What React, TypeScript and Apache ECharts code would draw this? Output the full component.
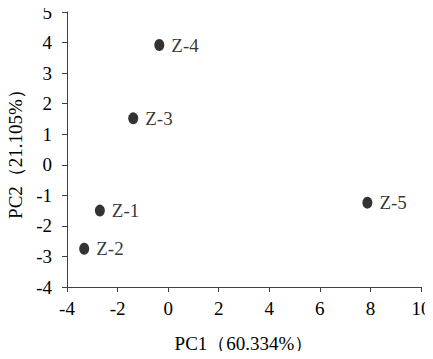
import React, { useEffect, useRef } from "react";
import * as echarts from "echarts";

const names = ["Z-1", "Z-2", "Z-3", "Z-4", "Z-5"];
const pc1 = [-2.7, -3.32, -1.38, -0.35, 7.88];
const pc2 = [-1.5, -2.75, 1.52, 3.92, -1.24];
const xName = "PC1（60.334%）";
const yName = "PC2（21.105%）";

const FONT = "'Liberation Serif', 'Times New Roman', serif";

export default function App() {
  const ref = useRef<HTMLDivElement>(null);
  useEffect(() => {
    if (!ref.current) return;
    const chart = echarts.init(ref.current, undefined, { renderer: "svg" });
    const axisCommon = {
      axisLine: { show: true, onZero: false, lineStyle: { color: "#404040", width: 1 } },
      axisTick: { show: true, inside: false, length: 5, lineStyle: { color: "#404040" } },
      splitLine: { show: false },
      axisLabel: { fontFamily: FONT, fontSize: 19, color: "#000" },
      nameLocation: "middle" as const,
      nameTextStyle: { fontFamily: FONT, fontSize: 19, color: "#000" },
    };
    chart.setOption({
      animation: false,
      grid: {
        left: 67,
        right: 12,
        top: 12,
        bottom: 72,
        containLabel: false,
        outerBoundsMode: "none",
      },
      xAxis: {
        ...axisCommon,
        type: "value",
        min: -4,
        max: 10,
        interval: 2,
        name: xName,
        nameGap: 47,
        axisLabel: { ...axisCommon.axisLabel, margin: 12 },
      },
      yAxis: {
        ...axisCommon,
        type: "value",
        min: -4,
        max: 5,
        interval: 1,
        name: yName,
        nameGap: 41,
        axisLabel: { ...axisCommon.axisLabel, margin: 15 },
      },
      series: [
        {
          type: "scatter",
          symbol: "circle",
          symbolSize: [10, 12],
          itemStyle: { color: "#000" },
          data: names.map((n, i) => ({ name: n, value: [pc1[i], pc2[i]] })),
          label: {
            show: true,
            position: "right",
            distance: 7,
            formatter: (p: any) => p.name,
            fontFamily: FONT,
            fontSize: 19,
            color: "#000",
          },
        },
      ],
    });
    return () => chart.dispose();
  }, []);
  return <div ref={ref} style={{ width: 433, height: 359, margin: -8 }} />;
}
